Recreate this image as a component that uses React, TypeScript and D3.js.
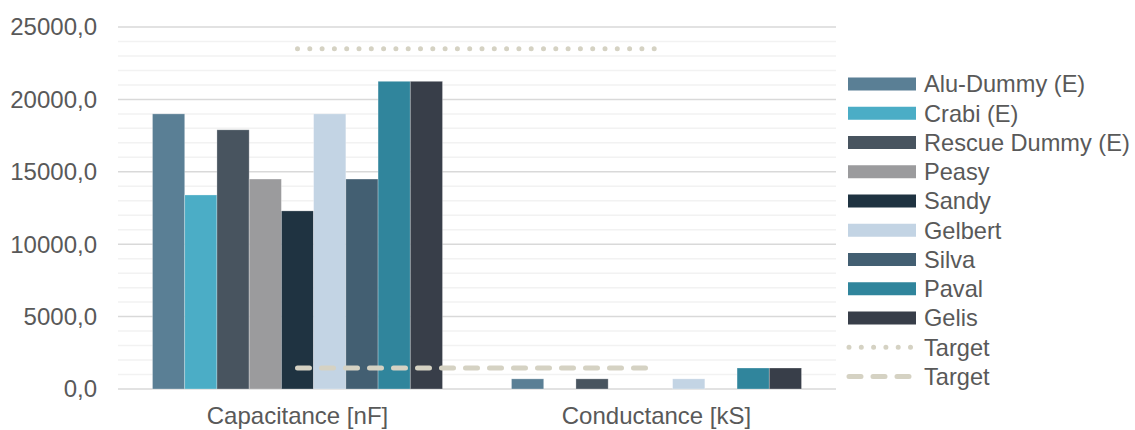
import { useEffect, useRef } from 'react';
import * as d3 from 'd3';

const categories = ['Capacitance [nF]', 'Conductance [kS]'];
const series = ['Alu-Dummy (E)', 'Crabi (E)', 'Rescue Dummy (E)', 'Peasy', 'Sandy', 'Gelbert', 'Silva', 'Paval', 'Gelis'];
const colors = ['#5a7f95', '#4badc6', '#48545f', '#9b9b9d', '#1f3341', '#c3d4e4', '#435f72', '#30859c', '#383e49'];
// values per series: [capacitance, conductance]
const values = [
  [19000, 700],
  [13400, 0],
  [17900, 700],
  [14500, 0],
  [12300, 0],
  [19000, 700],
  [14500, 0],
  [21250, 1450],
  [21250, 1450],
];
const targetDotted = [23500, 23500];
const targetDashed = [1450, 1450];
const yTicks = [0, 5000, 10000, 15000, 20000, 25000];
const targetColor = '#d5d2c3';

const App = () => {
  const svgRef = useRef<SVGSVGElement>(null);

  useEffect(() => {
    if (!svgRef.current) return;
    const svg = d3.select(svgRef.current);
    svg.selectAll('*').remove();

    const left = 118;
    const right = 836;
    const top = 27;
    const bottom = 389;
    const font = '"Liberation Sans", Arial, sans-serif';
    const textColor = '#595959';

    const x = d3.scaleBand().domain(categories).range([left, right]);
    const xi = d3.scaleBand().domain(series).range([0, x.bandwidth()]).paddingInner(0).paddingOuter(1.07);
    const y = d3.scaleLinear().domain([0, 25000]).range([bottom, top]);

    // minor grid
    svg.append('g')
      .selectAll('line')
      .data(d3.range(1000, 25001, 1000).filter(v => v % 5000 !== 0))
      .enter()
      .append('line')
      .attr('x1', left).attr('x2', right)
      .attr('y1', d => y(d)).attr('y2', d => y(d))
      .attr('stroke', '#f2f2f2')
      .attr('stroke-width', 1.5);

    // major grid
    svg.append('g')
      .selectAll('line')
      .data(yTicks)
      .enter()
      .append('line')
      .attr('x1', left).attr('x2', right)
      .attr('y1', d => y(d)).attr('y2', d => y(d))
      .attr('stroke', '#d9d9d9')
      .attr('stroke-width', 1.5);

    // y labels
    svg.append('g')
      .selectAll('text')
      .data(yTicks)
      .enter()
      .append('text')
      .attr('x', 97)
      .attr('y', d => y(d))
      .attr('dy', '0.35em')
      .attr('text-anchor', 'end')
      .attr('fill', textColor)
      .style('font-family', font)
      .style('font-size', '24px')
      .text(d => d3.format('.1f')(d).replace('.', ','));

    // bars
    series.forEach((s, si) => {
      svg.append('g')
        .selectAll('rect')
        .data(categories.map((c, ci) => ({ c, v: values[si][ci] })))
        .enter()
        .append('rect')
        .attr('x', d => (x(d.c) as number) + (xi(s) as number))
        .attr('width', xi.bandwidth())
        .attr('y', d => y(d.v))
        .attr('height', d => bottom - y(d.v))
        .attr('fill', colors[si])
        .attr('stroke', 'rgba(255,255,255,0.35)')
        .attr('stroke-width', 0.8);
    });

    const line = d3.line<number>()
      .x((d, i) => (x(categories[i]) as number) + x.bandwidth() / 2)
      .y(d => y(d));

    svg.append('path')
      .attr('d', line(targetDotted))
      .attr('fill', 'none')
      .attr('stroke', targetColor)
      .attr('stroke-width', 5)
      .attr('stroke-linecap', 'round')
      .attr('stroke-dasharray', '0 12.3');

    svg.append('path')
      .attr('d', line(targetDashed))
      .attr('fill', 'none')
      .attr('stroke', targetColor)
      .attr('stroke-width', 5)
      .attr('stroke-linecap', 'round')
      .attr('stroke-dasharray', '12 12');

    // x labels
    svg.append('g')
      .selectAll('text')
      .data(categories)
      .enter()
      .append('text')
      .attr('x', d => (x(d) as number) + x.bandwidth() / 2)
      .attr('y', 424)
      .attr('text-anchor', 'middle')
      .attr('fill', textColor)
      .style('font-family', font)
      .style('font-size', '24px')
      .text(d => d);

    // legend
    const legendItems = [
      ...series.map((s, i) => ({ label: s, color: colors[i], kind: 'rect' })),
      { label: 'Target', color: targetColor, kind: 'dot' },
      { label: 'Target', color: targetColor, kind: 'dash' },
    ];
    const lg = svg.append('g');
    legendItems.forEach((item, i) => {
      const cy = 84 + i * 29.25;
      if (item.kind === 'rect') {
        lg.append('rect')
          .attr('x', 848).attr('y', cy - 6.5)
          .attr('width', 68).attr('height', 13)
          .attr('fill', item.color);
      } else {
        lg.append('line')
          .attr('x1', 849).attr('x2', 914)
          .attr('y1', cy).attr('y2', cy)
          .attr('stroke', item.color)
          .attr('stroke-width', 5)
          .attr('stroke-linecap', 'round')
          .attr('stroke-dasharray', item.kind === 'dot' ? '0 12.3' : '12 12');
      }
      lg.append('text')
        .attr('x', 924)
        .attr('y', cy)
        .attr('dy', '0.35em')
        .attr('fill', textColor)
        .style('font-family', font)
        .style('font-size', '23.6px')
        .text(item.label);
    });
  }, []);

  return (
    <svg ref={svgRef} width={1135} height={430} style={{ position: 'absolute', left: 0, top: 0 }} />
  );
};

export default App;
